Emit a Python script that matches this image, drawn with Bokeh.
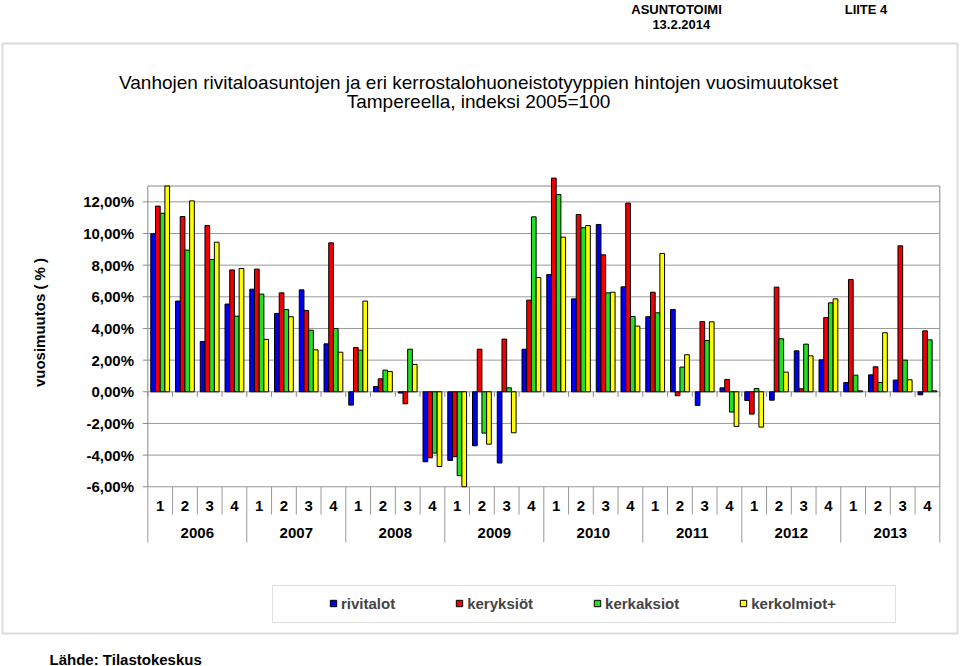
import math
from bokeh.plotting import figure
from bokeh.models import (ColumnDataSource, Range1d, Label, BoxAnnotation, Legend, LegendItem)
from bokeh.transform import dodge
from bokeh.core.properties import value
from bokeh.embed import file_html
from bokeh.resources import INLINE

# ---------------- data ----------------
years = ["2006", "2007", "2008", "2009", "2010", "2011", "2012", "2013"]
quarter_labels = ["1", "2", "3", "4"]
series_names = ["rivitalot", "keryksiöt", "kerkaksiot", "kerkolmiot+"]

rivitalot = [9.98, 5.73, 3.18, 5.54, 6.48, 4.95, 6.44, 3.03,
             -0.84, 0.34, -0.08, -4.42, -4.34, -3.41, -4.50, 2.69,
             7.41, 5.87, 10.57, 6.63, 4.74, 5.20, -0.86, 0.25,
             -0.55, -0.53, 2.59, 2.02, 0.59, 1.07, 0.74, -0.19]
keryksiot = [11.73, 11.07, 10.50, 7.70, 7.75, 6.25, 5.14, 9.41,
             2.80, 0.82, -0.76, -4.17, -4.10, 2.69, 3.33, 5.79,
             13.50, 11.20, 8.65, 11.92, 6.29, -0.25, 4.44, 0.78,
             -1.41, 6.61, 0.19, 4.69, 7.09, 1.58, 9.22, 3.85]
kerkaksiot = [11.28, 8.95, 8.36, 4.78, 6.17, 5.20, 3.89, 4.00,
              2.63, 1.37, 2.69, -3.87, -5.30, -2.61, 0.25, 11.05,
              12.46, 10.36, 6.25, 4.76, 4.99, 1.56, 3.24, -1.28,
              0.21, 3.35, 3.01, 5.62, 1.05, 0.59, 2.00, 3.28]
kerkolmiot = [13.00, 12.06, 9.45, 7.79, 3.31, 4.74, 2.65, 2.50,
              5.73, 1.28, 1.73, -4.72, -6.00, -3.31, -2.59, 7.22,
              9.77, 10.50, 6.29, 4.15, 8.74, 2.34, 4.42, -2.19,
              -2.23, 1.24, 2.27, 5.87, 0.06, 3.73, 0.76, 0.06]

ytick_values = [-6, -4, -2, 0, 2, 4, 6, 8, 10, 12]
ytick_labels = ["-6,00%", "-4,00%", "-2,00%", "0,00%", "2,00%", "4,00%",
                "6,00%", "8,00%", "10,00%", "12,00%"]
y_axis_min = -6
y_axis_max = 13

# ---------------- styling / layout ----------------
FONT = "Liberation Sans"
colors = ["#0000F0", "#F00000", "#22E022", "#FFFF00"]
offsets = [-0.285, -0.095, 0.095, 0.285]
bar_width = 0.19
GRID = "#999999"
BORDER = "#888888"

W, H = 960, 666
# page-pixel geometry of the plot area
PLOT_LEFT_PX = 147.3
PX_PER_Q = 24.75
TOP_VAL_PX = 185.5          # page y of y_axis_max
PX_PER_PCT = 15.83


def xd(px):
    return (px - PLOT_LEFT_PX) / PX_PER_Q


def yd(py):
    return y_axis_max - (py - TOP_VAL_PX) / PX_PER_PCT


n = len(years) * len(quarter_labels)
x_center = [i + 0.5 for i in range(n)]

src = ColumnDataSource(dict(x=x_center, rivitalot=rivitalot, keryksiot=keryksiot,
                            kerkaksiot=kerkaksiot, kerkolmiot=kerkolmiot))
keys = ["rivitalot", "keryksiot", "kerkaksiot", "kerkolmiot"]

p = figure(width=W, height=H, output_backend="svg", toolbar_location=None,
           x_range=Range1d(xd(0), xd(W)), y_range=Range1d(yd(H), yd(0)),
           x_axis_type=None, y_axis_type=None,
           min_border_left=0, min_border_right=0, min_border_top=0, min_border_bottom=0,
           outline_line_color=None, background_fill_color="white",
           border_fill_color="white")

# outer chart frame
p.add_layout(BoxAnnotation(left=xd(2), right=xd(957), top=yd(43), bottom=yd(633),
                           fill_color=None, line_color=BORDER, line_width=2, level="underlay"))

# horizontal grid lines across the plot area
p.segment(x0=[0] * len(ytick_values), y0=ytick_values, x1=[n] * len(ytick_values), y1=ytick_values,
          line_color=GRID, line_width=1)

# y axis: ticks and labels
tick_len = 5 / PX_PER_Q
p.segment(x0=[-tick_len] * len(ytick_values), y0=ytick_values, x1=[0] * len(ytick_values),
          y1=ytick_values, line_color=BORDER, line_width=1)
p.text(x=[xd(133.5)] * len(ytick_values), y=ytick_values, text=ytick_labels,
       text_align="right", text_baseline="middle", text_font=value(FONT),
       text_font_style="bold", text_font_size="15px", text_color="black")

# plot borders (left, right, top)
p.segment(x0=[0, n, 0], y0=[y_axis_min, y_axis_min, y_axis_max],
          x1=[0, n, n], y1=[y_axis_max, y_axis_max, y_axis_max],
          line_color=BORDER, line_width=1)

# category separators
sep_x = list(range(n + 1))
q_sep_bottom = yd(514)
y_sep_bottom = yd(542)
p.segment(x0=sep_x, y0=[y_axis_min] * len(sep_x), x1=sep_x,
          y1=[y_sep_bottom if i % len(quarter_labels) == 0 else q_sep_bottom for i in sep_x],
          line_color=GRID, line_width=1)
# zero-axis tick marks
p.segment(x0=sep_x, y0=[0] * len(sep_x), x1=sep_x, y1=[-5 / PX_PER_PCT] * len(sep_x),
          line_color=BORDER, line_width=1)

# bars
for key, color, off in zip(keys, colors, offsets):
    p.vbar(x=dodge("x", off, range=p.x_range), top=key, bottom=0, width=bar_width,
           source=src, fill_color=color, line_color="black", line_width=1)

# legend swatches (square markers; a single NaN point so nothing is drawn in the plot)
swatches = []
for color in colors:
    s = p.scatter(x=[float("nan")], y=[float("nan")], marker="square", size=7,
                  fill_color=color, line_color="black", line_width=1)
    swatches.append(s)

# category labels
q_text = [q for _ in years for q in quarter_labels]
p.text(x=x_center, y=[yd(505)] * n, text=q_text, text_align="center",
       text_baseline="middle", text_font=value(FONT), text_font_style="bold",
       text_font_size="15px", text_color="black")
nq = len(quarter_labels)
year_x = [sum(x_center[k * nq:(k + 1) * nq]) / nq for k in range(len(years))]
p.text(x=year_x, y=[yd(532)] * len(years), text=years, text_align="center",
       text_baseline="middle", text_font=value(FONT), text_font_style="bold",
       text_font_size="15px", text_color="black")

# legend box
p.add_layout(BoxAnnotation(left=xd(272), right=xd(895), top=yd(585), bottom=yd(622),
                           fill_color="white", fill_alpha=1.0, line_color=GRID, line_width=1,
                           level="underlay"))


def lab(text, x, y, size, bold=True, align="left", angle=0.0):
    p.add_layout(Label(text=text, x=xd(x), y=yd(y),
                       text_font=FONT, text_font_size=size,
                       text_font_style="bold" if bold else "normal",
                       text_align=align, text_baseline="middle", angle=angle,
                       text_color="black"))


lab("ASUNTOTOIMI", 676, 8.7, "13px", align="center")
lab("13.2.2014", 680.8, 24.2, "13px", align="center")
lab("LIITE 4", 865.5, 8.7, "13px", align="center")
lab("Vanhojen rivitaloasuntojen ja eri kerrostalohuoneistotyyppien hintojen vuosimuutokset",
    478, 81.5, "19px", bold=False, align="center")
lab("Tampereella, indeksi 2005=100", 478, 100.5, "19px", bold=False, align="center")
lab("vuosimuutos ( % )", 38.5, 322, "15px", align="center", angle=math.pi / 2)
lab("Lähde: Tilastokeskus", 49, 658.5, "15px")

legend = Legend(items=[LegendItem(label=nm, renderers=[r]) for nm, r in zip(series_names, swatches)],
                orientation="horizontal", location=(325.0, H - 612.0),
                padding=0, margin=0, spacing=56, glyph_width=16, glyph_height=16,
                label_height=18, label_standoff=0,
                label_text_font=FONT, label_text_font_style="bold",
                label_text_font_size="15px", border_line_color=None,
                background_fill_alpha=0)
p.add_layout(legend)

open("out.html", "w").write(file_html(p, INLINE))
